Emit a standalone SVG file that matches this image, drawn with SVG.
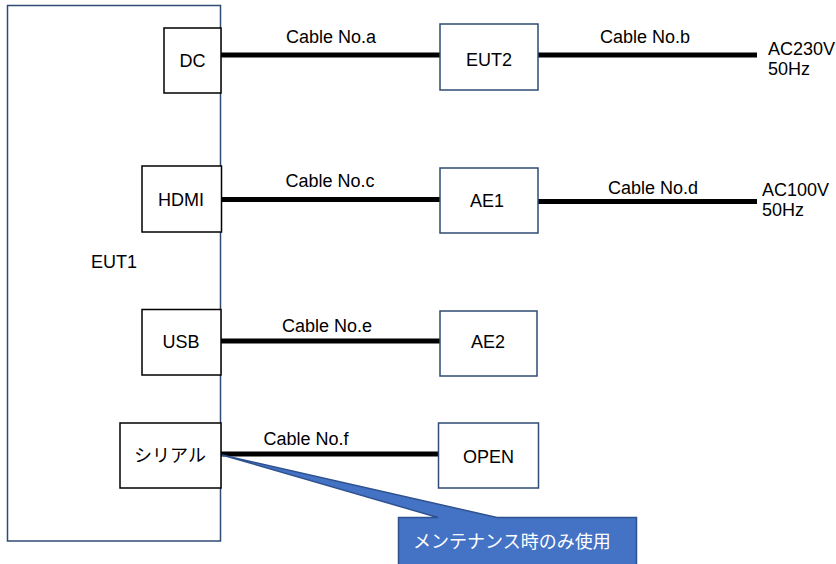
<svg xmlns="http://www.w3.org/2000/svg" width="836" height="564" viewBox="0 0 836 564">
  <style>
    .txt { font-family: "Liberation Sans", Arial, sans-serif; font-size: 18px; fill: #000; }
    .mid { text-anchor: middle; }
    .port { fill: #fff; stroke: #000; stroke-width: 1.5; }
    .ext { fill: #fff; stroke: #2F4B74; stroke-width: 1.5; }
    .cable { stroke: #000; stroke-width: 5; fill: none; }
    .jp { font-family: "Liberation Sans", "Noto Sans CJK JP", sans-serif; }
  </style>
  <rect width="836" height="564" fill="#fff"/>

  <!-- main unit -->
  <g id="eut1">
    <rect x="7.5" y="5.5" width="213" height="535.5" fill="#fff" stroke="#2F4B74" stroke-width="1.5"/>
    <text class="txt" x="91" y="268">EUT1</text>
  </g>

  <!-- cables -->
  <g id="connectors">
    <line class="cable" x1="221" y1="55" x2="440" y2="55"/>
    <line class="cable" x1="538" y1="55" x2="757" y2="55"/>
    <line class="cable" x1="221" y1="199.5" x2="440" y2="199.5"/>
    <line class="cable" x1="538" y1="201.5" x2="757" y2="201.5"/>
    <line class="cable" x1="221" y1="341" x2="440" y2="341"/>
    <line class="cable" x1="221" y1="454" x2="438.5" y2="454"/>
    <text class="txt mid" x="331" y="43">Cable No.a</text>
    <text class="txt mid" x="645" y="43">Cable No.b</text>
    <text class="txt mid" x="330" y="187">Cable No.c</text>
    <text class="txt mid" x="653" y="194">Cable No.d</text>
    <text class="txt mid" x="327" y="332">Cable No.e</text>
    <text class="txt mid" x="306" y="445">Cable No.f</text>
  </g>

  <!-- ports on EUT1 -->
  <g id="port-dc">
    <rect class="port" x="164" y="28" width="57" height="65"/>
    <text class="txt mid" x="192.5" y="67">DC</text>
  </g>
  <g id="port-hdmi">
    <rect class="port" x="142" y="166" width="79.5" height="66"/>
    <text class="txt mid" x="181" y="206">HDMI</text>
  </g>
  <g id="port-usb">
    <rect class="port" x="142" y="309.5" width="79" height="65.5"/>
    <text class="txt mid" x="181" y="348">USB</text>
  </g>
  <g id="port-serial">
    <rect class="port" x="120" y="423" width="101" height="65"/>
    <text class="txt mid jp" x="170" y="462" font-size="16.5">シリアル</text>
  </g>

  <!-- external equipment -->
  <g id="eut2">
    <rect class="ext" x="440" y="24" width="98" height="66"/>
    <text class="txt mid" x="489" y="66">EUT2</text>
  </g>
  <g id="ae1">
    <rect class="ext" x="440" y="168" width="98" height="65"/>
    <text class="txt mid" x="487" y="207">AE1</text>
  </g>
  <g id="ae2">
    <rect class="ext" x="440" y="311" width="97" height="65"/>
    <text class="txt mid" x="488" y="348">AE2</text>
  </g>
  <g id="open">
    <rect class="ext" x="438.5" y="423" width="100" height="65"/>
    <text class="txt mid" x="488.5" y="463">OPEN</text>
  </g>

  <!-- power sources -->
  <g id="ac230">
    <text class="txt" x="768" y="55">AC230V</text>
    <text class="txt" x="768" y="75">50Hz</text>
  </g>
  <g id="ac100">
    <text class="txt" x="762" y="196">AC100V</text>
    <text class="txt" x="762" y="216">50Hz</text>
  </g>

  <!-- note callout -->
  <g id="note">
    <path d="M222,455 L438,517.5 L398.5,517.5 L398.5,566 L636.5,566 L636.5,517.5 L497,517.5 Z" fill="#4472C4" stroke="#2F528F" stroke-width="1.5" stroke-linejoin="miter"/>
    <text class="txt jp" x="413" y="548" fill="#fff" style="fill:#fff">メンテナンス時のみ使用</text>
  </g>
</svg>
